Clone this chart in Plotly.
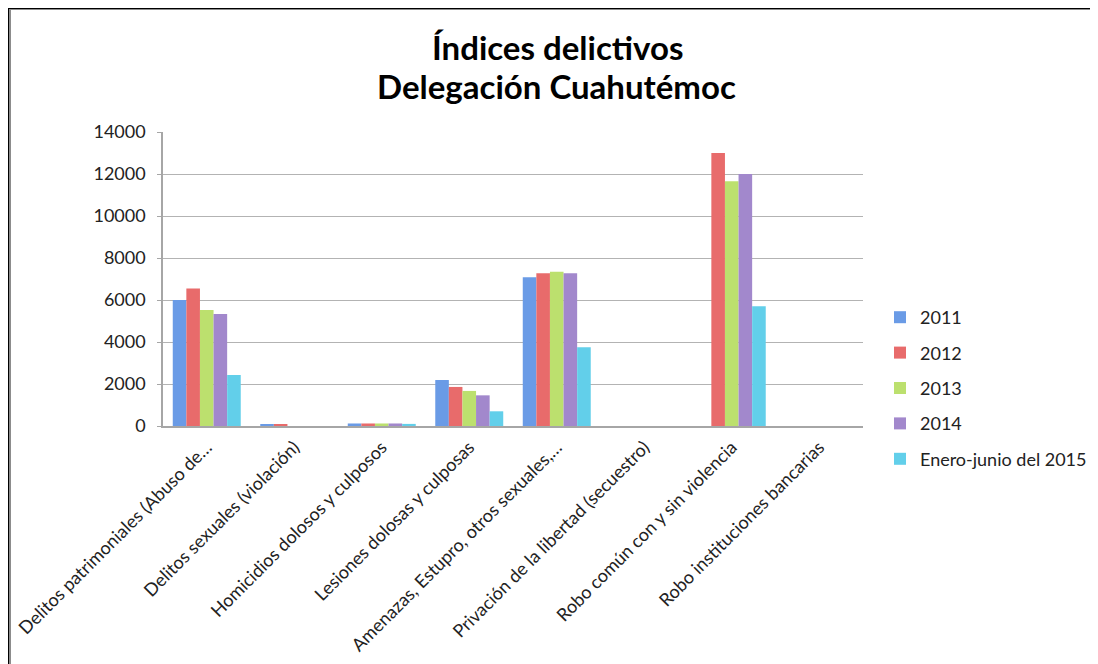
import plotly.graph_objects as go

categories = [
    "Delitos patrimoniales (Abuso de…",
    "Delitos sexuales (violación)",
    "Homicidios dolosos y culposos",
    "Lesiones dolosas y culposas",
    "Amenazas, Estupro, otros sexuales,…",
    "Privación de la libertad (secuestro)",
    "Robo común con y sin violencia",
    "Robo instituciones bancarias",
]

series_names = ["2011", "2012", "2013", "2014", "Enero-junio del 2015"]
v2011 = [6000, 50, 120, 2190, 7080, 0, 0, 0]
v2012 = [6550, 50, 120, 1860, 7270, 0, 13000, 0]
v2013 = [5520, 0, 120, 1670, 7350, 0, 11650, 0]
v2014 = [5330, 0, 120, 1460, 7270, 0, 12000, 0]
v2015 = [2430, 0, 100, 700, 3750, 0, 5700, 0]
series_values = [v2011, v2012, v2013, v2014, v2015]
colors = ["#6A9BE6", "#E86B6B", "#BCE06E", "#A288CC", "#62CFEA"]
y_ticks = [0, 2000, 4000, 6000, 8000, 10000, 12000, 14000]
title_lines = ["Índices delictivos", "Delegación Cuahutémoc"]

FONT = "Lato"
OFF = 8  # page body margin

fig = go.Figure()
for name, vals, col in zip(series_names, series_values, colors):
    fig.add_trace(go.Bar(
        x=categories, y=vals, name=name, legendgroup=name,
        marker=dict(color=col, line=dict(width=0)),
    ))

W, H = 1098, 664
L, R, T, B = 163 - OFF, 863 - OFF, 132 - OFF, 426 - OFF

def px_x(p):
    # p in screen pixels
    return (p - OFF - L) / (R - L)

def px_y(p):
    return (B - (p - OFF)) / (B - T)

shapes = [
    dict(type="line", xref="paper", yref="paper", x0=px_x(7.5), x1=px_x(7.5),
         y0=px_y(6), y1=px_y(700), line=dict(color="black", width=3)),
    dict(type="line", xref="paper", yref="paper", x0=px_x(6), x1=px_x(1120),
         y0=px_y(7.5), y1=px_y(7.5), line=dict(color="black", width=3)),
    dict(type="line", xref="paper", yref="paper", x0=px_x(10), x1=px_x(10),
         y0=px_y(9), y1=px_y(700), line=dict(color="#8C8C8C", width=2)),
    dict(type="line", xref="paper", yref="paper", x0=px_x(9), x1=px_x(1120),
         y0=px_y(9.5), y1=px_y(9.5), line=dict(color="#8C8C8C", width=1)),
]

annotations = [
    dict(text="<b>%s</b>" % title_lines[0], xref="paper", yref="paper",
         x=px_x(557), y=px_y(47), xanchor="center", yanchor="middle",
         showarrow=False, font=dict(family=FONT, size=33, color="black")),
    dict(text="<b>%s</b>" % title_lines[1], xref="paper", yref="paper",
         x=px_x(556), y=px_y(86), xanchor="center", yanchor="middle",
         showarrow=False, font=dict(family=FONT, size=33, color="black")),
]

fig.update_layout(
    width=W, height=H,
    margin=dict(l=L, r=W - R, t=T, b=H - B, autoexpand=False),
    paper_bgcolor="white", plot_bgcolor="white",
    font=dict(family=FONT, color="#222222"),
    barmode="group", bargap=0.223, bargroupgap=0,
    legend=dict(
        x=px_x(880), xanchor="left", y=px_y(388), yanchor="middle",
        font=dict(family=FONT, size=18, color="#222222"),
        tracegroupgap=9, bgcolor="rgba(0,0,0,0)",
    ),
    showlegend=True,
    shapes=shapes,
    annotations=annotations,
)

fig.update_xaxes(
    tickangle=-45, tickfont=dict(family=FONT, size=18, color="#222222"),
    showline=True, linecolor="#A6A6A6", linewidth=1.5,
    showgrid=False, ticks="", ticklabelstandoff=2,
)
fig.update_yaxes(
    range=[0, 14000], tickvals=y_ticks, ticktext=[str(t) for t in y_ticks],
    tickfont=dict(family=FONT, size=18, color="#222222"),
    showgrid=True, gridcolor="#B3B3B3", gridwidth=1.2,
    showline=True, linecolor="#A6A6A6", linewidth=1.5,
    ticks="outside", ticklen=4, tickcolor="#A6A6A6",
    ticklabelstandoff=8, zeroline=False,
)

fig.write_html("out.html")
